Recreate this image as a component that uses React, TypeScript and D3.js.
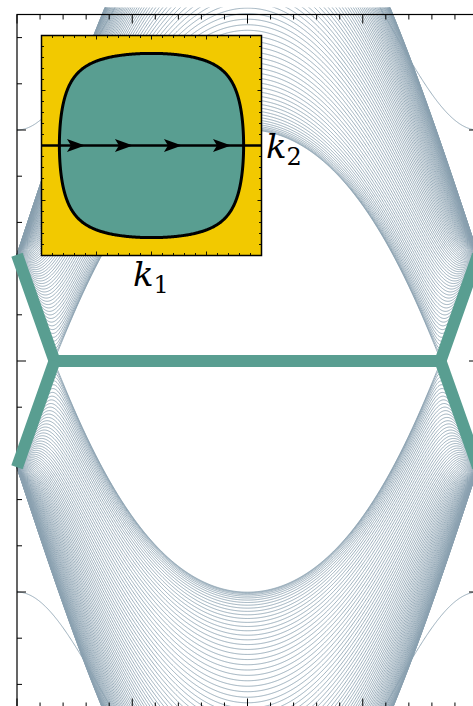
import React, { useMemo } from 'react';
import * as d3 from 'd3';

const W = 473;
const H = 706;

// Axis ticks: crystal momentum k (radians) and energy (hopping units)
const kMajorTicks = [-Math.PI, -Math.PI / 2, 0, Math.PI / 2, Math.PI];
const kMinorTicks = d3.range(-10, 11).map((i) => (i * Math.PI) / 10);
const energyMajorTicks = [-1, 0, 1];
const energyMinorTicks = [-1.4, -1.2, -1, -0.8, -0.6, -0.4, -0.2, 0, 0.2, 0.4, 0.6, 0.8, 1, 1.2, 1.4];

// Ribbon model: E = ±|a(k) + g(k) e^{iq}|, q quantised across the ribbon width
const ribbonWidth = 85;
const gapPolynomial = [-0.46, 1.943, -0.483]; // s(k) = g - a, polynomial in cos(k/2)
const onsiteTerm = [0.46, 0.1]; // a(k) = a0 + a1 (1 + cos k)
const flankBand = [1.0, 1.75]; // E^2 = b0^2 + b1 (1 + cos k)
const energyCut = 1.53;

// Edge-state branches (k, E)
const edgeUpper: [number, number][] = [
  [-Math.PI, 0.46],
  [-2.63, 0],
  [2.63, 0],
  [Math.PI, 0.46],
];
const edgeLowerLeft: [number, number][] = [
  [-Math.PI, -0.46],
  [-2.63, 0],
];
const edgeLowerRight: [number, number][] = [
  [2.63, 0],
  [Math.PI, -0.46],
];

// Inset: Brillouin zone with the nontrivial pocket and the k2 = 0 path
const pocketLevel = 0.2526; // cos(k1/2) cos(k2/2) contour
const arrowTips = [-1.9, -0.53, 0.87, 2.27];

const BAND_COLOR = '#8aa0b0';
const GREEN = '#599e91';
const YELLOW = '#f2c900';
const LABEL_FONT = "'DejaVu Serif', 'Liberation Serif', serif";

export default function App() {
  const x = d3.scaleLinear().domain([-Math.PI, Math.PI]).range([17, 478]);
  const y = d3.scaleLinear().domain([-1.5, 1.5]).range([707.5, 14.5]);

  const ix = d3.scaleLinear().domain([-Math.PI, Math.PI]).range([41.5, 261.5]);
  const iy = d3.scaleLinear().domain([-Math.PI, Math.PI]).range([255.5, 35.5]);

  const bandPaths = useMemo(() => {
    const ks = d3.range(0, 601).map((i) => -Math.PI + (2 * Math.PI * i) / 600);
    const s = (k: number) => {
      const c = Math.cos(k / 2);
      return gapPolynomial[0] + gapPolynomial[1] * c + gapPolynomial[2] * c * c;
    };
    const a = (k: number) => onsiteTerm[0] + onsiteTerm[1] * (1 + Math.cos(k));
    const line = d3
      .line<[number, number]>()
      .x((d) => x(d[0]))
      .y((d) => y(d[1]));
    const out: string[] = [];
    for (let n = 1; n <= ribbonWidth; n++) {
      const q = (n * Math.PI) / (ribbonWidth + 1);
      const pts = ks.map((k) => {
        const ak = a(k);
        const gk = s(k) + ak;
        const e2 = ak * ak + gk * gk + 2 * ak * gk * Math.cos(q);
        return [k, Math.sqrt(Math.max(0, e2))] as [number, number];
      });
      out.push(line(pts) as string);
      out.push(line(pts.map((p) => [p[0], -p[1]] as [number, number])) as string);
    }
    const flank = ks.map(
      (k) => [k, Math.sqrt(flankBand[0] * flankBand[0] + flankBand[1] * (1 + Math.cos(k)))] as [number, number]
    );
    out.push(line(flank) as string);
    out.push(line(flank.map((p) => [p[0], -p[1]] as [number, number])) as string);
    return out;
  }, []);

  const edgeLine = d3
    .line<[number, number]>()
    .x((d) => x(d[0]))
    .y((d) => y(d[1]));

  const pocketPath = useMemo(() => {
    const n = 241;
    const step = (2 * Math.PI) / (n - 1);
    const values: number[] = new Array(n * n);
    for (let j = 0; j < n; j++) {
      const k2 = Math.PI - j * step;
      for (let i = 0; i < n; i++) {
        const k1 = -Math.PI + i * step;
        values[j * n + i] = Math.cos(k1 / 2) * Math.cos(k2 / 2);
      }
    }
    const contours = d3.contours().size([n, n]).thresholds([pocketLevel])(values);
    const line = d3
      .line<number[]>()
      .x((p) => ix(-Math.PI + (p[0] - 0.5) * step))
      .y((p) => iy(Math.PI - (p[1] - 0.5) * step));
    let d = '';
    contours[0].coordinates.forEach((poly) => {
      poly.forEach((ring) => {
        d += (line(ring as number[][]) as string) + 'Z';
      });
    });
    return d;
  }, []);

  const ticksMain: JSX.Element[] = [];
  const majorLen = 9;
  const minorLen = 5;
  const isMajorK = (t: number) => kMajorTicks.some((m) => Math.abs(m - t) < 1e-9);
  const isMajorE = (t: number) => energyMajorTicks.some((m) => Math.abs(m - t) < 1e-9);
  kMinorTicks.forEach((t, i) => {
    const L = isMajorK(t) ? majorLen : minorLen;
    const px = x(t);
    ticksMain.push(<line key={`kt${i}`} x1={px} x2={px} y1={y(1.5)} y2={y(1.5) + L} />);
    ticksMain.push(<line key={`kb${i}`} x1={px} x2={px} y1={y(-1.5)} y2={y(-1.5) - L} />);
  });
  energyMinorTicks.forEach((t, i) => {
    const L = isMajorE(t) ? majorLen : minorLen;
    const py = y(t);
    ticksMain.push(<line key={`el${i}`} x1={x(-Math.PI)} x2={x(-Math.PI) + L} y1={py} y2={py} />);
    ticksMain.push(<line key={`er${i}`} x1={x(Math.PI)} x2={x(Math.PI) - L} y1={py} y2={py} />);
  });

  const insetTicks: JSX.Element[] = [];
  kMinorTicks.forEach((t, i) => {
    const L = isMajorK(t) ? 4 : 2.5;
    const px = ix(t);
    const py = iy(t);
    insetTicks.push(<line key={`it${i}`} x1={px} x2={px} y1={iy(Math.PI)} y2={iy(Math.PI) + L} />);
    insetTicks.push(<line key={`ib${i}`} x1={px} x2={px} y1={iy(-Math.PI)} y2={iy(-Math.PI) - L} />);
    insetTicks.push(<line key={`il${i}`} x1={ix(-Math.PI)} x2={ix(-Math.PI) + L} y1={py} y2={py} />);
    insetTicks.push(<line key={`ir${i}`} x1={ix(Math.PI)} x2={ix(Math.PI) - L} y1={py} y2={py} />);
  });

  const arrowHeads = arrowTips.map((k, i) => {
    const tx = ix(k);
    const ty = iy(0);
    const p = d3.path();
    p.moveTo(tx, ty);
    p.lineTo(tx - 18, ty - 6.5);
    p.lineTo(tx - 14, ty);
    p.lineTo(tx - 18, ty + 6.5);
    p.closePath();
    return <path key={`ah${i}`} d={p.toString()} fill="#000" />;
  });

  return (
    <svg
      width={W}
      height={H}
      style={{ position: 'absolute', left: 0, top: 0, background: '#fff' }}
      xmlns="http://www.w3.org/2000/svg"
    >
      <defs>
        <clipPath id="bandClip">
          <rect x={0} y={y(energyCut)} width={W} height={y(-energyCut) - y(energyCut)} />
        </clipPath>
      </defs>
      <g clipPath="url(#bandClip)" fill="none" stroke={BAND_COLOR} strokeWidth={0.85}>
        {bandPaths.map((d, i) => (
          <path key={i} d={d} />
        ))}
      </g>

      <g stroke="#000" strokeWidth={1.2} fill="none">
        <rect x={x(-Math.PI)} y={y(1.5)} width={x(Math.PI) - x(-Math.PI)} height={y(-1.5) - y(1.5)} />
        <g strokeWidth={1}>{ticksMain}</g>
      </g>

      <g fill="none" stroke={GREEN} strokeWidth={12} strokeLinejoin="miter">
        <path d={edgeLine(edgeUpper) as string} />
        <path d={edgeLine(edgeLowerLeft) as string} />
        <path d={edgeLine(edgeLowerRight) as string} />
      </g>

      <g>
        <rect x={ix(-Math.PI)} y={iy(Math.PI)} width={ix(Math.PI) - ix(-Math.PI)} height={iy(-Math.PI) - iy(Math.PI)} fill={YELLOW} />
        <path d={pocketPath} fill={GREEN} stroke="#000" strokeWidth={3} />
        <line x1={ix(-Math.PI)} x2={ix(Math.PI)} y1={iy(0)} y2={iy(0)} stroke="#000" strokeWidth={2.6} />
        {arrowHeads}
        <g stroke="#000" strokeWidth={0.9}>{insetTicks}</g>
        <rect x={ix(-Math.PI)} y={iy(Math.PI)} width={ix(Math.PI) - ix(-Math.PI)} height={iy(-Math.PI) - iy(Math.PI)} fill="none" stroke="#000" strokeWidth={1.5} />
      </g>

      <text x={266} y={158} fontFamily={LABEL_FONT} fontStyle="italic" fontSize={34} fill="#000">
        k<tspan fontStyle="normal" fontSize={24} dy={7}>2</tspan>
      </text>
      <text x={133} y={286} fontFamily={LABEL_FONT} fontStyle="italic" fontSize={34} fill="#000">
        k<tspan fontStyle="normal" fontSize={24} dy={7}>1</tspan>
      </text>
    </svg>
  );
}
